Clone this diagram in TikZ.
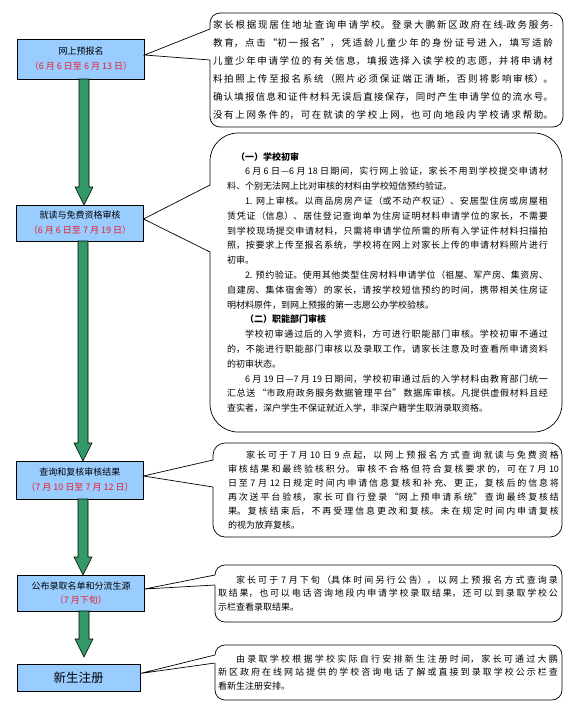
\documentclass[tikz,border=0pt]{standalone}
\usepackage{fontspec}
\usetikzlibrary{calc}
\newfontfamily\cjk{Noto Sans CJK SC}
\XeTeXlinebreaklocale "zh"
\XeTeXlinebreakskip=0pt plus 3pt
\definecolor{stageblue}{RGB}{153,204,255}
\definecolor{flowgreen}{RGB}{51,153,102}
\definecolor{datered}{RGB}{235,30,45}

% green block arrow from one stage box down to the next
\newcommand{\flowarrow}[3]{%
  \path ($(#1.south)+(3,0)$) coordinate (fs) ($(fs |- #2.north)+(0,-#3)$) coordinate (ft);
  \draw[flow] ($(fs)+(-5,0)$) -- ($(ft)+(-5,-18)$) -- ($(ft)+(-9,-18)$) -- (ft)
    -- ($(ft)+(9,-18)$) -- ($(ft)+(5,-18)$) -- ($(fs)+(5,0)$) -- cycle;}
% callout pointer from a stage box to its note
\newcommand{\notelink}[4]{%
  \fill[white] ([yshift=4pt]#1.east) -- ($(#2.north west)+(1.2,#3)$) -- ($(#2.north west)+(1.2,#4)$) -- cycle;
  \draw[link] ($(#2.north west)+(0,#3)$) -- ([yshift=4pt]#1.east) -- ($(#2.north west)+(0,#4)$);}

\begin{document}
\begin{tikzpicture}[x=1pt, y=-1pt,
  stage/.style={draw, line width=0.8pt, fill=stageblue, align=center, inner sep=0pt, outer sep=0pt,
    minimum width=127pt, font=\cjk\fontsize{9}{15}\selectfont},
  note/.style={draw, line width=0.7pt, fill=white, rounded corners=10pt, inner sep=3pt, outer sep=0pt,
    align=justify, font=\cjk\fontsize{9}{14}\selectfont},
  flow/.style={draw, line width=0.6pt, fill=flowgreen},
  link/.style={line width=0.7pt}]
	\useasboundingbox (0,0) rectangle (576,710);
	% stages
	\node[stage, minimum height=40pt] (b1) at (81,59) {网上预报名\\{\color{datered}（6 月 6 日至 6 月 13 日）}};
	\node[stage, minimum height=36pt] (b2) at (80,223) {就读与免费资格审核\\{\color{datered}（6 月 6 日至 7 月 19 日）}};
	\node[stage, minimum height=38pt] (b3) at (80,480) {查询和复核审核结果\\{\color{datered}（7 月 10 日至 7 月 12 日）}};
	\node[stage, minimum height=36pt, font=\cjk\fontsize{9}{14}\selectfont] (b4) at (81,593) {公布录取名单和分流生源\\{\color{datered}（7 月下旬）}};
	\node[stage, minimum height=27pt, minimum width=123pt, font=\cjk\fontsize{12.5}{15}\selectfont] (b5) at (78.5,677.5) {新生注册};
	\flowarrow{b1}{b2}{0}
	\flowarrow{b2}{b3}{0}
	\flowarrow{b3}{b4}{0}
	\flowarrow{b4}{b5}{7}
	% notes
	\node[note, minimum width=353pt, minimum height=114pt, text width=347pt, font=\cjk\fontsize{9.5}{18}\selectfont] (c1) at (386.5,70) {\rightskip=7pt\parfillskip=0pt
	家长根据现居住地址查询申请学校。登录大鹏新区政府在线-政务服务-\linebreak
	教育，点击“初一报名”，凭适龄儿童少年的身份证号进入，填写适龄\linebreak
	儿童少年申请学位的有关信息，填报选择入读学校的志愿，并将申请材\linebreak
	料拍照上传至报名系统（照片必须保证端正清晰，否则将影响审核）。\linebreak
	确认填报信息和证件材料无误后直接保存，同时产生申请学位的流水号。\linebreak
	没有上网条件的，可在就读的学校上网，也可向地段内学校请求帮助。\par};
	\node[note, rounded corners=28pt, minimum width=352pt, minimum height=299pt, text width=346pt, font=\cjk\fontsize{9}{14.8}\selectfont] (c2) at (386,282.5) {\leftskip=14pt\rightskip=11pt
	\hspace*{1em}{\bfseries （一）学校初审}\par
	\hspace*{2em}6 月 6 日—6 月 18 日期间，实行网上验证，家长不用到学校提交申请材\linebreak
	料、个别无法网上比对审核的材料由学校短信预约验证。\par
	\hspace*{2em}1. 网上审核。以商品房房产证（或不动产权证）、安居型住房或房屋租\linebreak
	赁凭证（信息）、居住登记查询单为住房证明材料申请学位的家长，不需要\linebreak
	到学校现场提交申请材料，只需将申请学位所需的所有入学证件材料扫描拍\linebreak
	照，按要求上传至报名系统，学校将在网上对家长上传的申请材料照片进行\linebreak
	初审。\par
	\hspace*{2em}2. 预约验证。使用其他类型住房材料申请学位（祖屋、军产房、集资房、\linebreak
	自建房、集体宿舍等）的家长，请按学校短信预约的时间，携带相关住房证\linebreak
	明材料原件，到网上预报的第一志愿公办学校验核。\par
	\hspace*{2em}{\bfseries （二）职能部门审核}\par
	\hspace*{2em}学校初审通过后的入学资料，方可进行职能部门审核。学校初审不通过\linebreak
	的，不能进行职能部门审核以及录取工作，请家长注意及时查看所申请资料\linebreak
	的初审状态。\par
	\hspace*{2em}6 月 19 日—7 月 19 日期间，学校初审通过后的入学材料由教育部门统一\linebreak
	汇总送 “市政府政务服务数据管理平台” 数据库审核。凡提供虚假材料且经\linebreak
	查实者，深户学生不保证就近入学，非深户籍学生取消录取资格。\par};
	\node[note, rounded corners=12pt, minimum width=349pt, minimum height=94pt, text width=343pt] (c3) at (387.5,490) {\leftskip=12pt
	\hspace*{2em}家长可于 7 月 10 日 9 点起，以网上预报名方式查询就读与免费资格\linebreak
	审核结果和最终验核积分。审核不合格但符合复核要求的，可在 7 月 10\linebreak
	日至 7 月 12 日规定时间内申请信息复核和补充、更正，复核后的信息将\linebreak
	再次送平台验核，家长可自行登录 “网上预申请系统” 查询最终复核结\linebreak
	果。复核结束后，不再受理信息更改和复核。未在规定时间内申请复核\linebreak
	的视为放弃复核。\par};
	\node[note, minimum width=347pt, minimum height=57pt, text width=341pt, font=\cjk\fontsize{9}{13.5}\selectfont] (c4) at (388.5,593.5) {\rightskip=1pt
	\hspace*{2em}家长可于 7 月下旬（具体时间另行公告），以网上预报名方式查询录\linebreak
	取结果，也可以电话咨询地段内申请学校录取结果，还可以到录取学校公\linebreak
	示栏查看录取结果。\par};
	\node[note, minimum width=347pt, minimum height=55pt, text width=341pt, font=\cjk\fontsize{9}{13.5}\selectfont] (c5) at (388.5,672.5) {\rightskip=1pt
	\hspace*{2em}由录取学校根据学校实际自行安排新生注册时间，家长可通过大鹏\linebreak
	新区政府在线网站提供的学校咨询电话了解或直接到录取学校公示栏查\linebreak
	看新生注册安排。\par};
	% pointers
	\notelink{b1}{c1}{16}{47}
	\notelink{b2}{c2}{52}{119}
	\notelink{b3}{c3}{17}{44}
	\notelink{b4}{c4}{10}{20}
	\notelink{b5}{c5}{10}{18}
\end{tikzpicture}
\end{document}
